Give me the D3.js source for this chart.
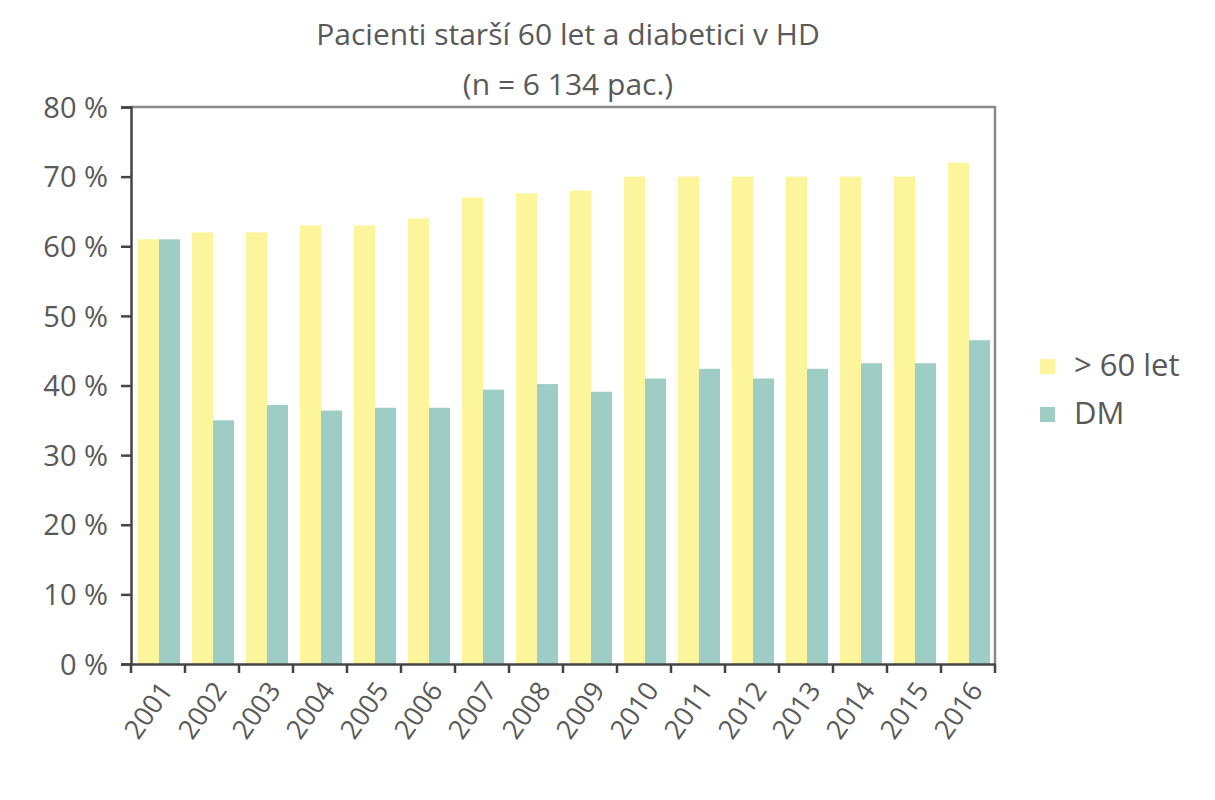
<!DOCTYPE html>
<html>
<head>
<meta charset="utf-8">
<script src="https://cdn.jsdelivr.net/npm/d3@7"></script>
<style>
  body { margin: 0; background: #fff; }
  text { font-family: "Open Sans", "Noto Sans", sans-serif; fill: #595959; }
</style>
</head>
<body>
<div id="chart"></div>
<script>
var years = ["2001", "2002", "2003", "2004", "2005", "2006", "2007", "2008",
             "2009", "2010", "2011", "2012", "2013", "2014", "2015", "2016"];
var over60 = [61, 62, 62, 63, 63, 64, 67, 67.6, 68, 70, 70, 70, 70, 70, 70, 72];
var dm = [61, 35, 37.2, 36.4, 36.8, 36.8, 39.4, 40.2, 39.1, 41, 42.4, 41, 42.4, 43.2, 43.2, 46.5];
var seriesNames = ["> 60 let", "DM"];
var yTicks = [0, 10, 20, 30, 40, 50, 60, 70, 80];
var colors = ["#fdf59c", "#9dcdc4"];

var width = 1215, height = 800;
var margin = {top: 107, right: 220, bottom: 136, left: 131};

var svg = d3.select("#chart").append("svg")
    .attr("width", width)
    .attr("height", height);

// title
svg.append("text").attr("x", 568).attr("y", 45)
    .attr("text-anchor", "middle").style("font-size", "30px")
    .text("Pacienti starší 60 let a diabetici v HD");
svg.append("text").attr("x", 568).attr("y", 95)
    .attr("text-anchor", "middle").style("font-size", "30px")
    .text("(n = 6 134 pac.)");

var x = d3.scaleBand()
    .domain(years)
    .range([margin.left, 995]);

var y = d3.scaleLinear()
    .domain([0, 80])
    .range([height - margin.bottom, margin.top]);

var x1 = d3.scaleBand()
    .domain([0, 1])
    .range([7, 49]);

// frame top/right
svg.append("path")
    .attr("d", "M" + x.range()[0] + "," + y(80) + "H" + x.range()[1] + "V" + y(0))
    .attr("fill", "none")
    .attr("stroke", "#8a8a8a")
    .attr("stroke-width", 2.5);

var groups = svg.selectAll("g.year")
    .data(years)
    .enter()
    .append("g")
    .attr("class", "year")
    .attr("transform", function(d) { return "translate(" + x(d) + ",0)"; });

groups.selectAll("rect")
    .data(function(d, i) { return [over60[i], dm[i]]; })
    .enter()
    .append("rect")
    .attr("x", function(d, j) { return x1(j); })
    .attr("width", x1.bandwidth())
    .attr("y", function(d) { return y(d); })
    .attr("height", function(d) { return y(0) - y(d); })
    .attr("fill", function(d, j) { return colors[j]; });

// y axis
var yAxis = svg.append("g")
    .attr("transform", "translate(" + margin.left + ",0)")
    .call(d3.axisLeft(y).tickValues(yTicks).tickSize(10).tickPadding(13)
        .tickFormat(function(d) { return d + " %"; }));
yAxis.select(".domain").attr("stroke", "#444").attr("stroke-width", 2.5);
yAxis.selectAll(".tick line").attr("stroke", "#444").attr("stroke-width", 2.5);
yAxis.selectAll("text").style("font-size", "29px").attr("fill", "#595959")
    .attr("dy", "0.35em");

// x axis
var xAxis = svg.append("g")
    .attr("transform", "translate(0," + y(0) + ")")
    .call(d3.axisBottom(x).tickSize(0).tickFormat(""));
xAxis.select(".domain").attr("stroke", "#444").attr("stroke-width", 2.5);

var tickPos = years.map(function(d) { return x(d); }).concat([x.range()[1]]);
xAxis.selectAll("line.boundary")
    .data(tickPos)
    .enter()
    .append("line")
    .attr("class", "boundary")
    .attr("x1", function(d) { return d; })
    .attr("x2", function(d) { return d; })
    .attr("y1", 0)
    .attr("y2", 9)
    .attr("stroke", "#444")
    .attr("stroke-width", 2.5);

xAxis.selectAll("text.year")
    .data(years)
    .enter()
    .append("text")
    .attr("class", "year")
    .attr("text-anchor", "end")
    .style("font-size", "27px")
    .attr("transform", function(d) {
        return "translate(" + (x(d) + x.bandwidth() / 2 + 8) + ",21) rotate(-55)";
    })
    .attr("dy", "0.35em")
    .text(function(d) { return d; });

// legend
var legend = svg.selectAll("g.legend")
    .data(seriesNames)
    .enter()
    .append("g")
    .attr("class", "legend")
    .attr("transform", function(d, i) { return "translate(1040," + (365 + i * 48) + ")"; });
legend.append("rect")
    .attr("x", 0).attr("y", -6).attr("width", 15).attr("height", 15)
    .attr("fill", function(d, i) { return colors[i]; });
legend.append("text")
    .attr("x", 34).attr("dy", "0.35em")
    .style("font-size", "31px")
    .text(function(d) { return d; });
</script>
</body>
</html>
